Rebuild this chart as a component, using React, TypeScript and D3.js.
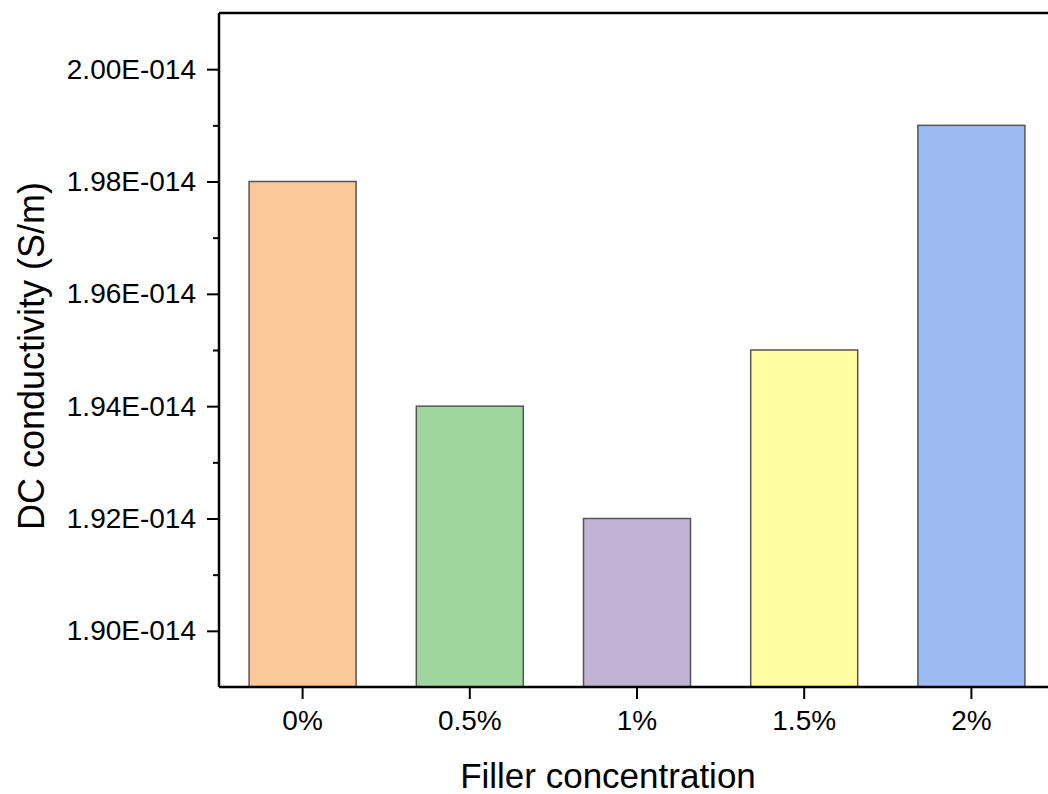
import React, { useEffect, useRef } from 'react'
import * as d3 from 'd3'

const categories = ['0%', '0.5%', '1%', '1.5%', '2%']
const conductivity = [1.98e-14, 1.94e-14, 1.92e-14, 1.95e-14, 1.99e-14]
const barColors = ['#FBC997', '#9FD69E', '#C2B2D6', '#FFFD9F', '#9CBBF2']
const majorTicks = [1.90e-14, 1.92e-14, 1.94e-14, 1.96e-14, 1.98e-14, 2.00e-14]
const minorTicks = [1.91e-14, 1.93e-14, 1.95e-14, 1.97e-14, 1.99e-14]

const W = 1048
const H = 794

function drawChart(el: SVGSVGElement) {
    const svg = d3.select(el)
    svg.selectAll('*').remove()

    const left = 219, right = 1055, top = 13, bottom = 687
    const font = 'Arial, "Liberation Sans", sans-serif'

    const x = d3.scaleBand().domain(categories).range([left, right]).paddingInner(0.36).paddingOuter(0.18)
    const y = d3.scaleLinear().domain([1.89e-14, 2.01e-14]).range([bottom, top])

    // bars
    svg.append('g')
        .selectAll('rect')
        .data(conductivity)
        .enter()
        .append('rect')
        .attr('x', (d, i) => x(categories[i])!)
        .attr('y', d => y(d))
        .attr('width', x.bandwidth())
        .attr('height', d => bottom - y(d))
        .attr('fill', (d, i) => barColors[i])
        .attr('stroke', '#555')
        .attr('stroke-width', 1.5)

    // y axis
    const yAxis = svg.append('g')
        .attr('transform', `translate(${left},0)`)
        .call(d3.axisLeft(y).tickValues(majorTicks).tickSize(12).tickPadding(11)
            .tickFormat(d => (+d / 1e-14).toFixed(2) + 'E-014'))
    yAxis.select('.domain').remove()
    yAxis.selectAll('line').attr('stroke', '#000').attr('stroke-width', 2)
    yAxis.selectAll('text').attr('font-family', font).attr('font-size', 28).attr('fill', '#000')

    const yMinor = svg.append('g')
        .attr('transform', `translate(${left},0)`)
        .call(d3.axisLeft(y).tickValues(minorTicks).tickSize(6).tickFormat(() => ''))
    yMinor.select('.domain').remove()
    yMinor.selectAll('line').attr('stroke', '#000').attr('stroke-width', 2)

    // x axis
    const xAxis = svg.append('g')
        .attr('transform', `translate(0,${bottom})`)
        .call(d3.axisBottom(x).tickSize(12).tickPadding(11))
    xAxis.select('.domain').remove()
    xAxis.selectAll('line').attr('stroke', '#000').attr('stroke-width', 2)
    xAxis.selectAll('text').attr('font-family', font).attr('font-size', 28).attr('fill', '#000')

    // frame lines
    svg.append('line').attr('x1', left).attr('x2', W).attr('y1', bottom).attr('y2', bottom)
        .attr('stroke', '#000').attr('stroke-width', 2.5)
    svg.append('line').attr('x1', left).attr('x2', W).attr('y1', top).attr('y2', top)
        .attr('stroke', '#000').attr('stroke-width', 2.5)
    svg.append('line').attr('x1', left).attr('x2', left).attr('y1', top).attr('y2', bottom)
        .attr('stroke', '#000').attr('stroke-width', 2.5)

    // axis titles
    svg.append('text')
        .attr('x', 608)
        .attr('y', 788)
        .attr('text-anchor', 'middle')
        .attr('font-family', font)
        .attr('font-size', 35)
        .text('Filler concentration')

    svg.append('text')
        .attr('transform', 'translate(44,356) rotate(-90)')
        .attr('text-anchor', 'middle')
        .attr('font-family', font)
        .attr('font-size', 36)
        .text('DC conductivity (S/m)')
}

const App = () => {
    const ref = useRef<SVGSVGElement>(null)
    useEffect(() => {
        document.body.style.margin = '0'
        if (ref.current) drawChart(ref.current)
    }, [])
    return <svg ref={ref} width={W} height={H} style={{ display: 'block', background: '#fff' }} />
}

export default App
